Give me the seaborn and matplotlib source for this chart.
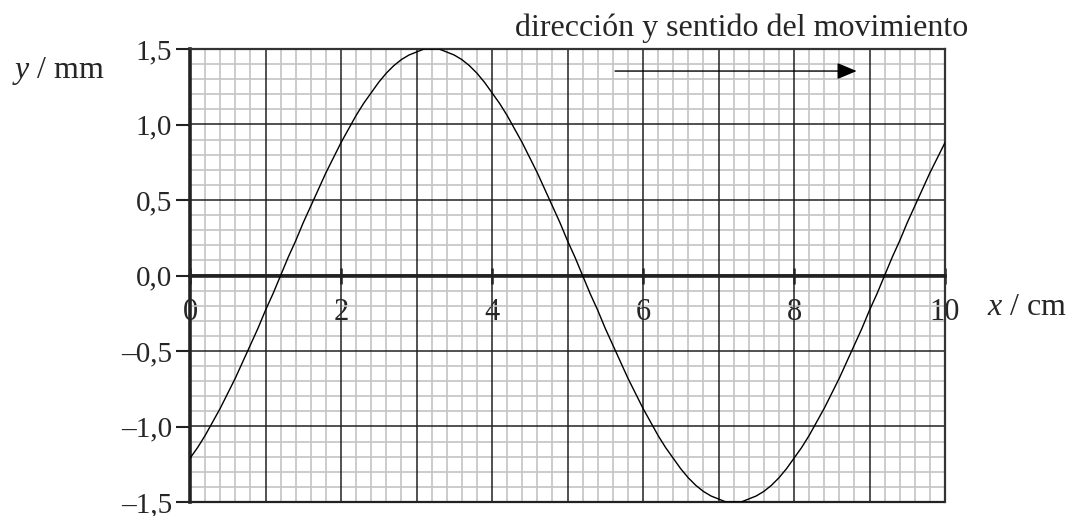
import numpy as np
import pandas as pd
import matplotlib
matplotlib.use("Agg")
import matplotlib.pyplot as plt
import seaborn as sns
from matplotlib.ticker import MultipleLocator

# Wave displacement sampled every 0.1 cm
x_cm = [round(0.1 * i, 1) for i in range(101)]
y_mm = [-1.21, -1.14, -1.06, -0.97, -0.88, -0.78, -0.68, -0.57, -0.46, -0.35,
        -0.23, -0.12, 0.00, 0.12, 0.23, 0.35, 0.46, 0.57, 0.68, 0.78,
        0.88, 0.97, 1.06, 1.14, 1.21, 1.28, 1.34, 1.39, 1.43, 1.46,
        1.48, 1.50, 1.50, 1.50, 1.48, 1.46, 1.43, 1.39, 1.34, 1.28,
        1.21, 1.14, 1.06, 0.97, 0.88, 0.78, 0.68, 0.57, 0.46, 0.35,
        0.23, 0.12, 0.00, -0.12, -0.23, -0.35, -0.46, -0.57, -0.68, -0.78,
        -0.88, -0.97, -1.06, -1.14, -1.21, -1.28, -1.34, -1.39, -1.43, -1.46,
        -1.48, -1.50, -1.50, -1.50, -1.48, -1.46, -1.43, -1.39, -1.34, -1.28,
        -1.21, -1.14, -1.06, -0.97, -0.88, -0.78, -0.68, -0.57, -0.46, -0.35,
        -0.23, -0.12, 0.00, 0.12, 0.23, 0.35, 0.46, 0.57, 0.68, 0.78, 0.88]

x_ticks = [0, 2, 4, 6, 8, 10]
x_tick_labels = ["0", "2", "4", "6", "8", "10"]
y_ticks = [-1.5, -1.0, -0.5, 0.0, 0.5, 1.0, 1.5]
y_tick_labels = ["\u20131,5", "\u20131,0", "\u20130,5", "0,0", "0,5", "1,0", "1,5"]

motion_label = "dirección y sentido del movimiento"
x_label = "$x$ / cm"
y_label = "$y$ / mm"

sns.set_theme(style="white")
plt.rcParams["font.family"] = ["Liberation Serif", "DejaVu Serif"]
plt.rcParams["mathtext.fontset"] = "custom"
plt.rcParams["mathtext.rm"] = "Liberation Serif"
plt.rcParams["mathtext.it"] = "Liberation Serif:italic"

FS = 21
FS_X = 22
FS_TEXT = 23
fig = plt.figure(figsize=(10.77, 5.16), dpi=100)
ax = fig.add_axes([190 / 1077, 1 - 502 / 516, (945 - 190) / 1077, (502 - 49) / 516])

df = pd.DataFrame({"x": x_cm, "y": y_mm})
sns.lineplot(data=df, x="x", y="y", ax=ax, color="black", linewidth=1.0,
             zorder=5, legend=False)

ax.set_xlim(0, 10)
ax.set_ylim(-1.5, 1.5)

# graph-paper grid
for v in np.arange(0, 10.01, 0.2):
    major = abs(v - round(v)) < 1e-6
    ax.axvline(v, color="#222222" if major else "#c4c4c4",
               lw=1.1 if major else 1.2, zorder=2 if major else 1)
for v in np.arange(-1.5, 1.501, 0.1):
    major = abs(v * 2 - round(v * 2)) < 1e-6
    ax.axhline(v, color="#222222" if major else "#c4c4c4",
               lw=1.1 if major else 1.2, zorder=2 if major else 1)

for side in ["top", "right"]:
    ax.spines[side].set_color("#333333")
    ax.spines[side].set_linewidth(1.6)
ax.spines["left"].set_color("#222222")
ax.spines["left"].set_linewidth(2.6)
ax.spines["bottom"].set_position(("data", 0))
ax.spines["bottom"].set_color("#222222")
ax.spines["bottom"].set_linewidth(2.6)
ax.axhline(-1.5, color="#222222", lw=1.6, zorder=3, clip_on=False)
for s in ax.spines.values():
    s.set_zorder(4)

ax.set_xticks(x_ticks)
ax.set_xticklabels(x_tick_labels)
ax.set_yticks(y_ticks)
ax.set_yticklabels(y_tick_labels)
ax.tick_params(axis="x", which="major", direction="inout", length=12, width=1.8,
               pad=10, color="#222222", labelsize=FS_X, bottom=True)
ax.tick_params(axis="y", which="major", direction="out", length=10, width=1.5,
               pad=3, color="#222222", labelsize=FS, left=True)
ax.xaxis.set_minor_locator(MultipleLocator(0.2))
ax.yaxis.set_minor_locator(MultipleLocator(0.1))
ax.tick_params(which="minor", length=0)

ax.set_xlabel("")
ax.set_ylabel("")
ax.text(10.56, -0.215, x_label, fontsize=FS_TEXT, ha="left", va="center")
ax.text(-1.13, 1.31, y_label, fontsize=FS_TEXT, ha="right", va="baseline",
        clip_on=False)

# direction of travel
ax.text(4.30, 1.585, motion_label, fontsize=FS_TEXT, ha="left", va="baseline")
ax.annotate("", xy=(8.83, 1.354), xytext=(5.63, 1.354),
            arrowprops=dict(arrowstyle="-|>,head_length=1.0,head_width=0.42",
                            color="black", lw=1.0, shrinkA=0, shrinkB=0),
            zorder=6)

fig.savefig("out.png", dpi=100)
